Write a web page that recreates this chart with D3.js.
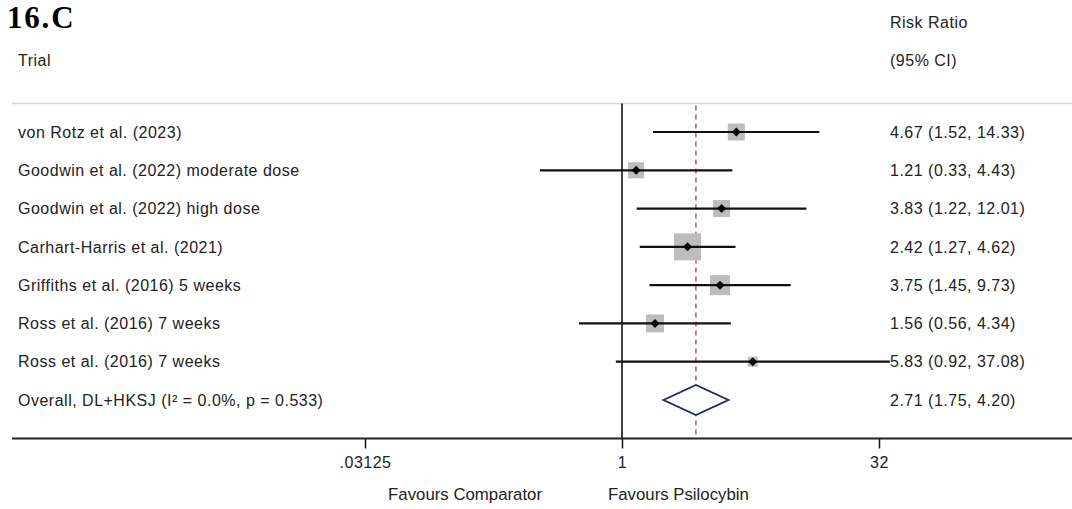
<!DOCTYPE html>
<html>
<head>
<meta charset="utf-8">
<script src="https://cdn.jsdelivr.net/npm/d3@7"></script>
<style>
  html, body { margin: 0; padding: 0; background: #fff; }
  svg { display: block; font-family: "Liberation Sans", Arial, sans-serif; }
  .lbl { font-size: 16px; letter-spacing: 0.5px; fill: #222; }
</style>
</head>
<body>
<svg id="chart"></svg>
<script>
// ── Data ─────────────────────────────────────────────────────────────────────
const trials = [
  "von Rotz et al. (2023)",
  "Goodwin et al. (2022) moderate dose",
  "Goodwin et al. (2022) high dose",
  "Carhart-Harris et al. (2021)",
  "Griffiths et al. (2016) 5 weeks",
  "Ross et al. (2016) 7 weeks",
  "Ross et al. (2016) 7 weeks"
];
const rr     = [4.67, 1.21, 3.83, 2.42, 3.75, 1.56, 5.83];
const lower  = [1.52, 0.33, 1.22, 1.27, 1.45, 0.56, 0.92];
const upper  = [14.33, 4.43, 12.01, 4.62, 9.73, 4.34, 37.08];
const weight = [12.2, 10.8, 12.2, 30.8, 16.9, 13.7, 4.2];   // estimated % weights

const overallLabel = "Overall, DL+HKSJ (I\u00B2 = 0.0%, p = 0.533)";
const overall = { rr: 2.71, lo: 1.75, hi: 4.20 };

const tickValues = [1 / 32, 1, 32];
const tickLabels = [".03125", "1", "32"];

// ── Layout ───────────────────────────────────────────────────────────────────
const W = 1072, H = 509;
const svg = d3.select("#chart").attr("width", W).attr("height", H);

const x = d3.scaleLog().base(2).domain([1 / 32, 32]).range([365, 879]);
const rows = trials.concat([overallLabel]);
const y = d3.scalePoint().domain(d3.range(rows.length)).range([132, 400]);
const side = d3.scaleSqrt().domain([0, 30.8]).range([0, 27]);

const topY = 103.5, axisY = 438.5;

// Title and headers
svg.append("text").attr("x", 7).attr("y", 28)
  .attr("font-family", "'Liberation Serif', 'Times New Roman', serif")
  .attr("font-weight", "bold").attr("font-size", "31px").attr("letter-spacing", "1.8px")
  .attr("fill", "#000")
  .text("16.C");
svg.append("text").attr("class", "lbl").attr("x", 18).attr("y", 60).attr("dy", "0.36em").text("Trial");
svg.append("text").attr("class", "lbl").attr("x", 890).attr("y", 22).attr("dy", "0.36em").text("Risk Ratio");
svg.append("text").attr("class", "lbl").attr("x", 890).attr("y", 60).attr("dy", "0.36em").text("(95% CI)");

// Top rule
svg.append("line").attr("x1", 12).attr("x2", W).attr("y1", topY).attr("y2", topY)
  .attr("stroke", "#d6d6d6").attr("stroke-width", 1.5);

// No-effect line
svg.append("line").attr("x1", x(1)).attr("x2", x(1)).attr("y1", topY).attr("y2", axisY)
  .attr("stroke", "#111").attr("stroke-width", 1.6);

// Overall effect dashed line
svg.append("line").attr("x1", x(overall.rr)).attr("x2", x(overall.rr)).attr("y1", topY + 2).attr("y2", axisY)
  .attr("stroke", "#8e4b55").attr("stroke-width", 1.3).attr("stroke-dasharray", "5,4");

// Study rows
const g = svg.append("g");
trials.forEach((t, i) => {
  const cy = y(i);
  const s = side(weight[i]);
  g.append("rect")
    .attr("x", x(rr[i]) - s / 2).attr("y", cy - s / 2)
    .attr("width", s).attr("height", s).attr("fill", "#bdbdbd");
  g.append("line")
    .attr("x1", x(lower[i])).attr("x2", x(upper[i]))
    .attr("y1", cy).attr("y2", cy)
    .attr("stroke", "#111").attr("stroke-width", 2.2);
  const d = 4.5;
  g.append("path")
    .attr("d", `M${x(rr[i]) - d},${cy}L${x(rr[i])},${cy - d}L${x(rr[i]) + d},${cy}L${x(rr[i])},${cy + d}Z`)
    .attr("fill", "#000");
  g.append("text").attr("class", "lbl").attr("x", 18).attr("y", cy).attr("dy", "0.36em").text(t);
  g.append("text").attr("class", "lbl").attr("x", 890).attr("y", cy).attr("dy", "0.36em")
    .text(`${rr[i].toFixed(2)} (${lower[i].toFixed(2)}, ${upper[i].toFixed(2)})`);
});

// Overall diamond
const oy = y(trials.length);
svg.append("path")
  .attr("d", `M${x(overall.lo)},${oy}L${x(overall.rr)},${oy - 15}L${x(overall.hi)},${oy}L${x(overall.rr)},${oy + 15}Z`)
  .attr("fill", "#fff").attr("stroke", "#1c2570").attr("stroke-width", 1.8);
svg.append("text").attr("class", "lbl").attr("x", 18).attr("y", oy).attr("dy", "0.36em").text(overallLabel);
svg.append("text").attr("class", "lbl").attr("x", 890).attr("y", oy).attr("dy", "0.36em")
  .text(`${overall.rr.toFixed(2)} (${overall.lo.toFixed(2)}, ${overall.hi.toFixed(2)})`);

// Axis
const axis = d3.axisBottom(x).tickValues(tickValues)
  .tickFormat((d, i) => tickLabels[i]).tickSize(10).tickPadding(8);
const ax = svg.append("g").attr("transform", `translate(0,${axisY})`).call(axis);
ax.select(".domain").remove();
ax.selectAll(".tick line").attr("stroke", "#111").attr("stroke-width", 1.5);
ax.selectAll(".tick text").attr("class", "lbl").attr("font-size", null)
  .attr("font-family", "'Liberation Sans', Arial, sans-serif");
svg.append("line").attr("x1", 12).attr("x2", W).attr("y1", axisY).attr("y2", axisY)
  .attr("stroke", "#222").attr("stroke-width", 2);

// Direction labels
svg.append("text").attr("x", 542).attr("y", 494).attr("dy", "0.36em").attr("text-anchor", "end")
  .attr("font-size", "16.8px").attr("fill", "#222").text("Favours Comparator");
svg.append("text").attr("x", 608).attr("y", 494).attr("dy", "0.36em")
  .attr("font-size", "16.8px").attr("fill", "#222").text("Favours Psilocybin");
</script>
</body>
</html>
